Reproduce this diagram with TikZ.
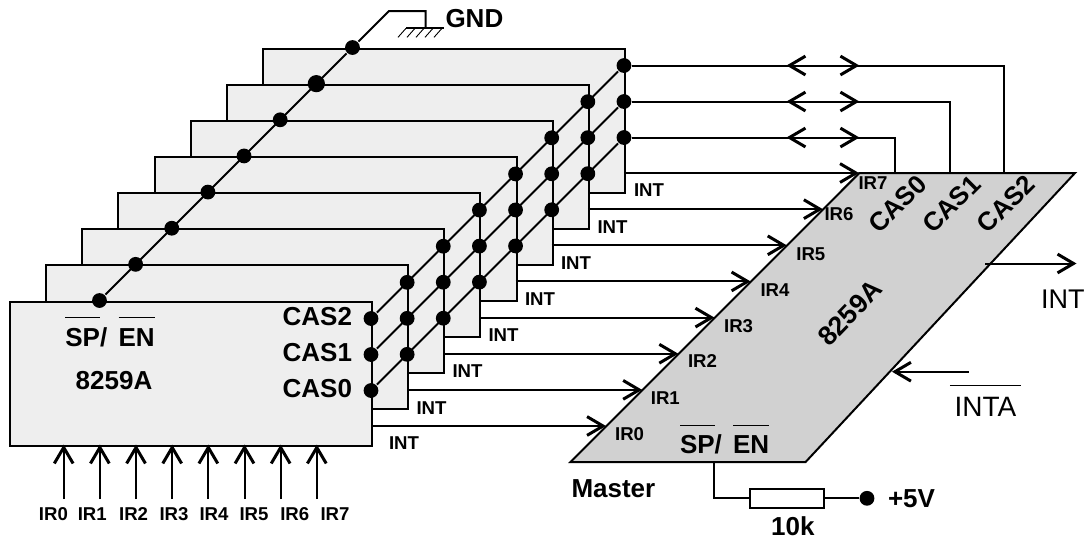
\documentclass[tikz,border=0pt]{standalone}
\usepackage{fontspec}
\setmainfont{Liberation Sans}
\usetikzlibrary{arrows.meta,positioning}
\definecolor{cChip}{HTML}{EEEEEE}
\definecolor{cMaster}{HTML}{D1D1D1}
\newcommand{\olbar}[1]{\sbox0{#1}\rlap{\rule[1.06em]{\wd0}{0.75pt}}\usebox0}

\begin{document}
\begin{tikzpicture}[
  x=0.5pt,y=-0.5pt,
  line width=1pt,
  >={Straight Barb[length=8pt,width=9.4pt,line width=1.5pt]},
  chip/.style={draw,fill=cChip,anchor=north west,inner sep=0pt,minimum width=181pt,minimum height=72pt},
  joint/.style={circle,fill=black,inner sep=0pt,minimum size=7.4pt},
  biglabel/.style={font=\fontsize{13}{15}\bfseries\selectfont,inner sep=0pt},
  smalllabel/.style={font=\fontsize{9.3}{11}\bfseries\selectfont,inner sep=0pt},
  plainlabel/.style={font=\fontsize{14}{16}\selectfont,inner sep=0pt}]

\useasboundingbox (0,0) rectangle (1084,542);

%============================ SLAVE STACK ============================
% --- back to front, so the front chip covers the others ---
\foreach \k in {7,6,...,0}{
  \pgfmathsetmacro\bx{9+36.14*\k}
  \pgfmathsetmacro\by{300.5-36.14*\k}
  \node[chip] (box\k) at (\bx,\by) {};
}

% --- joints of each chip ---
\foreach \k in {0,...,7}{
  \pgfmathsetmacro\rx{371+36.14*\k}
  \pgfmathsetmacro\lx{99.5+36.14*\k}
  \pgfmathsetmacro\ty{300.5-36.14*\k}
  \pgfmathsetmacro\sa{\ty+18}
  \pgfmathsetmacro\sb{\ty+54}
  \pgfmathsetmacro\sc{\ty+90}
  \node[joint] (cas2x\k) at (\rx,\sa) {};
  \node[joint] (cas1x\k) at (\rx,\sb) {};
  \node[joint] (cas0x\k) at (\rx,\sc) {};
  \node[joint] (sp\k) at (\lx,\ty) {};
}
\node[joint,minimum size=8.6pt] (spbig) at (sp6) {};

% --- diagonals through the stack ---
\draw (cas2x0)--(cas2x7) (cas1x0)--(cas1x7) (cas0x0)--(cas0x7);
\coordinate (gndA) at (389,11);
\coordinate (gndB) at (425.6,11);
\coordinate (gndC) at (425.6,28.3);
\draw (sp0)--(sp7)--(gndA)--(gndB)--(gndC);

% ground symbol
\coordinate (gndL) at (406,28.3);
\coordinate (gndR) at (443.5,28.3);
\draw (gndL)--(gndR);
\foreach \h in {0,...,4}
  \draw[line width=0.45pt] (406+9*\h,28.3)--++(-8,9);
\node[biglabel,anchor=west] (gnd) at (444.5,18.5) {GND};

% chip texts
\node[biglabel,anchor=base west] (spen) at (64.4,346) {\olbar{SP}/\hspace{2pt} \olbar{EN}};
\node[biglabel] (type) at (114,381) {8259A};
\node[biglabel,anchor=west] (lab2) at (281.7,317) {CAS2};
\node[biglabel,anchor=west] (lab1) at (281.7,353) {CAS1};
\node[biglabel,anchor=west] (lab0) at (281.7,388.5) {CAS0};

% inputs of the front chip
\foreach \i/\lx in {0/53.4,1/92.3,2/133.6,3/174,4/214,5/254,6/294.8,7/335}{
  \pgfmathsetmacro\ax{63.7+36.16*\i}
  \coordinate (in\i) at (\ax,499);
  \coordinate (pin\i) at (\ax,444.5);
  \draw[->] (in\i)--(pin\i);
  \node[smalllabel] (ir\i) at (\lx,513.7) {IR\i};
}

%============================ MASTER ============================
\coordinate (mA) at (570.5,462);
\coordinate (mB) at (805.6,462);
\coordinate (mC) at (1075,173);
\coordinate (mD) at (859.4,173);
\draw[fill=cMaster] (mA)--(mB)--(mC)--(mD)--cycle;

% INT lines into the master
\foreach \k in {0,...,7}{
  \pgfmathsetmacro\sx{371+36.14*\k}
  \pgfmathsetmacro\tx{606+36.14*\k}
  \pgfmathsetmacro\ly{426-36.14*\k}
  \coordinate (intA\k) at (\sx,\ly);
  \coordinate (intB\k) at (\tx,\ly);
  \draw[->] (intA\k)--(intB\k);
}
\foreach \k/\lx/\ly in {0/404/443,1/431.5/408,2/467.5/371.5,3/503.5/335.5,4/540/299,5/576/263,6/612.5/227,7/649/190.5}
  \node[smalllabel] (int\k) at (\lx,\ly) {INT};

% master inputs
\foreach \i/\lx/\ly in {0/629.6/434.3,1/665.3/397.7,2/702.5/361,3/738.6/325.7,4/775/290,5/810.8/254,6/839/214,7/873/182.7}
  \node[smalllabel] (mir\i) at (\lx,\ly) {IR\i};

% CAS bus
\foreach \j/\wx in {0/895,1/949.7,2/1004}{
  \coordinate (bend\j) at (\wx,0 |- cas\j x7);
  \coordinate (foot\j) at (\wx,173);
  \draw (cas\j x7)--(bend\j)--(foot\j);
  \coordinate (tipL\j) at (786.5,0 |- cas\j x7);
  \coordinate (tipR\j) at (859.4,0 |- cas\j x7);
  \draw[<->] (tipL\j)--(tipR\j);
}
\node[biglabel,rotate=45] (mcas0) at (897.6,204) {CAS0};
\node[biglabel,rotate=45] (mcas1) at (951.5,204) {CAS1};
\node[biglabel,rotate=45] (mcas2) at (1006,204) {CAS2};
\node[biglabel,rotate=46,font=\fontsize{13.4}{15}\bfseries\selectfont] (mtype) at (850,313) {8259A};
\node[biglabel,anchor=base west] (mspen) at (679,453.7) {\olbar{SP}/\hspace{2pt} \olbar{EN}};
\node[biglabel,anchor=west] (master) at (570.5,489) {Master};

% INT and INTA
\coordinate (oA) at (985,263.5);
\coordinate (oB) at (1076.5,263.5);
\draw[->] (oA)--(oB);
\node[plainlabel,anchor=west,font=\fontsize{13.5}{16}\selectfont] (oint) at (1040,299) {INT};
\coordinate (iA) at (968.8,371.7);
\coordinate (iB) at (892,371.7);
\draw[->] (iA)--(iB);
\node[plainlabel,anchor=base] (inta) at (985.5,416) {\olbar{\,INTA\,}};

% pull-up
\coordinate (pA) at (714.3,462);
\coordinate (pB) at (714.3,498.3);
\node[draw,fill=white,inner sep=0pt,minimum width=37pt,minimum height=9.4pt] (res) at (787,498.3) {};
\node[joint] (vcc) at (867,498.3) {};
\draw (pA)--(pB)--(res) (res)--(vcc);
\node[biglabel,anchor=west] (plus) at (887,499) {+5V};
\node[biglabel] (rval) at (792.8,526.7) {10k};

\end{tikzpicture}
\end{document}
